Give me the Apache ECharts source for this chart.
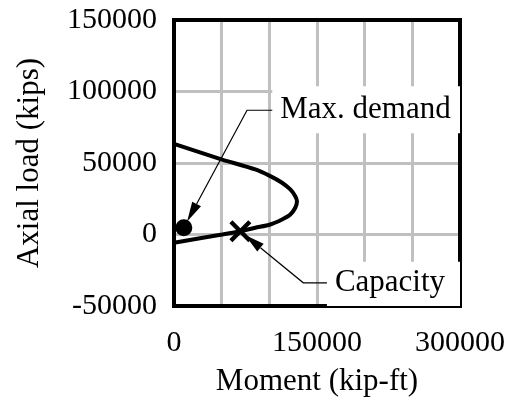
<!DOCTYPE html>
<html><head><meta charset="utf-8">
<script src="https://cdn.jsdelivr.net/npm/echarts@6/dist/echarts.min.js"></script>
<style>html,body{margin:0;padding:0;background:#fff}#c{width:514px;height:404px}</style>
</head><body><div id="c"></div>
<script>
// ---- data ----
const xTickLabels = [0, 150000, 300000];
const yTickLabels = [-50000, 0, 50000, 100000, 150000];
const curveMoment = [0, 50500, 69600, 85300, 101000, 113300, 122000, 127200, 129000, 127200, 122000, 113300, 101000, 85300, 50500, 0];
const curveAxial  = [-5800, 0, 2300, 4700, 7000, 10500, 14000, 18700, 23300, 26800, 31500, 36200, 40800, 45500, 52400, 63400];
const demandMoment = [10300];
const demandAxial  = [4700];
const capacityMoment = [69600];
const capacityAxial  = [2300];
const annotationTexts = ['Max. demand', 'Capacity'];

// ---- chart ----
const FONT = '"Liberation Serif","Times New Roman",serif';
const chart = echarts.init(document.getElementById('c'), null, {renderer: 'canvas'});
const lineOnly = {show: true, onZero: false, lineStyle: {color: '#000', width: 4, cap: 'square'}};
const hid = {show: false};
const zipPairs = (a, b) => a.map((v, i) => [v, b[i]]);

chart.setOption({
  animation: false,
  grid: {left: 174, top: 20, width: 286, height: 286},
  xAxis: [
    {type: 'value', min: 0, max: 300000, interval: 50000, position: 'bottom',
     axisLine: {show: false}, axisTick: hid,
     axisLabel: {margin: 22, fontSize: 30, fontFamily: FONT, color: '#000',
                 formatter: v => xTickLabels.includes(v) ? String(v) : ''},
     splitLine: {show: true, showMinLine: false, showMaxLine: false, lineStyle: {color: '#c0c0c0', width: 3}},
     name: 'Moment (kip-ft)', nameLocation: 'middle', nameGap: 60,
     nameTextStyle: {fontSize: 31, fontFamily: FONT, color: '#000'}},
    {type: 'value', min: 0, max: 300000, position: 'bottom', z: 3, axisLine: lineOnly, axisTick: hid, axisLabel: hid, splitLine: hid},
    {type: 'value', min: 0, max: 300000, position: 'top', z: 3, axisLine: lineOnly, axisTick: hid, axisLabel: hid, splitLine: hid}
  ],
  yAxis: [
    {type: 'value', min: -50000, max: 150000, interval: 50000, position: 'left',
     axisLine: {show: false}, axisTick: hid,
     axisLabel: {margin: 17, fontSize: 30, fontFamily: FONT, color: '#000',
                 formatter: v => yTickLabels.includes(v) ? String(v) : ''},
     splitLine: {show: true, showMinLine: false, showMaxLine: false, lineStyle: {color: '#c0c0c0', width: 3}},
     name: 'Axial load (kips)', nameLocation: 'middle', nameGap: 129,
     nameTextStyle: {fontSize: 31, fontFamily: FONT, color: '#000'}},
    {type: 'value', min: -50000, max: 150000, position: 'left', z: 3, axisLine: lineOnly, axisTick: hid, axisLabel: hid, splitLine: hid},
    {type: 'value', min: -50000, max: 150000, position: 'right', z: 3, axisLine: lineOnly, axisTick: hid, axisLabel: hid, splitLine: hid}
  ],
  series: [
    {type: 'line', xAxisIndex: 0, yAxisIndex: 0, data: zipPairs(curveMoment, curveAxial),
     showSymbol: false, smooth: 0.25, lineStyle: {color: '#000', width: 4}, z: 4},
    {type: 'scatter', xAxisIndex: 0, yAxisIndex: 0, data: zipPairs(demandMoment, demandAxial),
     symbol: 'circle', symbolSize: 17, itemStyle: {color: '#000', opacity: 1}, z: 5},
    {type: 'scatter', xAxisIndex: 0, yAxisIndex: 0, data: zipPairs(capacityMoment, capacityAxial),
     symbol: 'path://M0,2.8L2.8,0L10,7.2L17.2,0L20,2.8L12.8,10L20,17.2L17.2,20L10,12.8L2.8,20L0,17.2L7.2,10Z',
     symbolSize: 22, itemStyle: {color: '#000', opacity: 1}, z: 5}
  ]
});

// ---- annotations (placed in data coordinates, converted by the chart's scales) ----
const annotations = [
  {text: annotationTexts[0], target: [demandMoment[0], demandAxial[0]], elbow: [76600, 86900], labelAt: [103100, 86900], tipGap: 7, boxTop: -24, boxBottom: 23},
  {text: annotationTexts[1], target: [capacityMoment[0], capacityAxial[0]], elbow: [135600, -33800], labelAt: [160400, -33800], tipGap: 6, boxTop: -21, boxBottom: null}
];
const px = d => chart.convertToPixel({xAxisIndex: 0, yAxisIndex: 0}, d);
const gridRight = px([300000, 0])[0];
const gridBottom = px([0, -50000])[1];
const els = [];
annotations.forEach(a => {
  const t = px(a.target), e = px(a.elbow), l = px(a.labelAt);
  const dx = e[0] - t[0], dy = e[1] - t[1], len = Math.hypot(dx, dy);
  const ux = dx / len, uy = dy / len;
  const tip = [t[0] + ux * a.tipGap, t[1] + uy * a.tipGap];
  const base = [tip[0] + ux * 20, tip[1] + uy * 20];
  const pxp = -uy, pyp = ux;
  const bottom = a.boxBottom === null ? gridBottom : l[1] + a.boxBottom;
  els.push({type: 'rect', z: 20, shape: {x: l[0], y: l[1] + a.boxTop, width: gridRight - l[0], height: bottom - (l[1] + a.boxTop)}, style: {fill: '#fff'}});
  els.push({type: 'text', z: 21, style: {text: a.text, x: l[0] + 8, y: l[1], font: '31px ' + FONT, fill: '#000', align: 'left', verticalAlign: 'middle'}});
  els.push({type: 'polyline', z: 21, shape: {points: [l, e, base]}, style: {stroke: '#000', lineWidth: 1.2, fill: null}});
  els.push({type: 'polygon', z: 21, shape: {points: [tip, [base[0] + pxp * 5, base[1] + pyp * 5], [base[0] - pxp * 5, base[1] - pyp * 5]]}, style: {fill: '#000'}});
});
chart.setOption({graphic: els});
</script>
</body></html>
